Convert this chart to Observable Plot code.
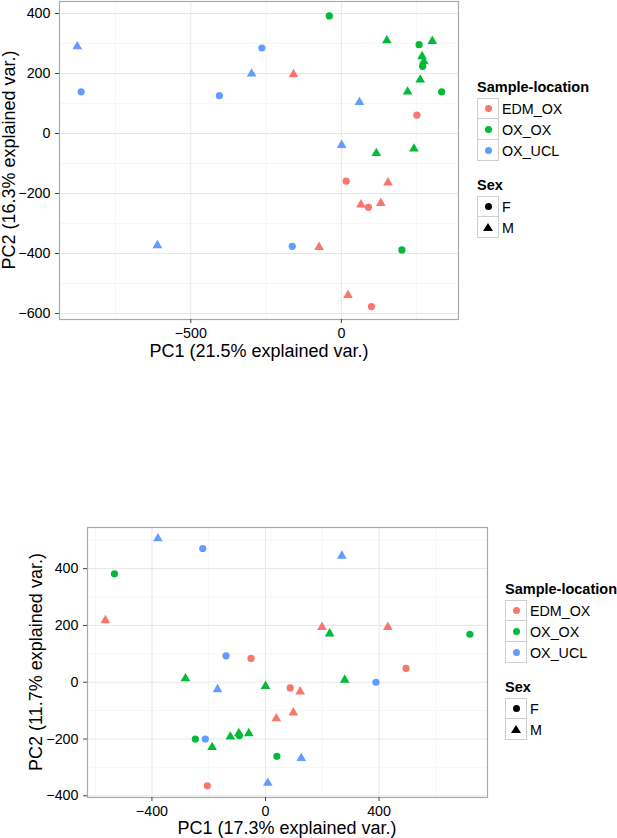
<!DOCTYPE html>
<html><head><meta charset="utf-8">
<script src="https://cdn.jsdelivr.net/npm/d3@7"></script>
<script src="https://cdn.jsdelivr.net/npm/@observablehq/plot@0.6"></script>
<style>
body{margin:0;background:#fff;font-family:"Liberation Sans",Arial,Helvetica,sans-serif;color:#000;}
#page{position:relative;width:617px;height:838px;overflow:hidden;background:#fff;}
.atitle{position:absolute;font-size:18px;line-height:1;white-space:nowrap;transform:translate(-50%,-50%);}
.ytitle{transform:translate(-50%,-50%) rotate(-90deg);}
.legend{position:absolute;font-size:14.3px;}
.leg-title{font-weight:bold;line-height:1;height:15px;margin-bottom:3px;white-space:nowrap;font-size:14.5px;}
.leg-row{display:flex;align-items:center;height:21px;}
.key{width:20px;height:20px;border:1px solid #cfcfcf;margin-top:-1px;display:flex;align-items:center;justify-content:center;background:#fff;box-sizing:content-box;}
.leg-row:first-of-type .key{margin-top:0}
.lab{margin-left:3px;white-space:nowrap;}
.dotk{width:7px;height:7px;border-radius:50%;}
.trik{width:0;height:0;border-left:5px solid transparent;border-right:5px solid transparent;border-bottom:8px solid #000;}
</style>
</head><body>
<div id="page"></div>
<script>
// ---- shared categories ----
const locations = ["EDM_OX", "OX_OX", "OX_UCL"];
const locationColors = ["#F8766D", "#00BA38", "#619CFF"];
const sexes = ["F", "M"];

// ---- top chart (PC1 21.5%, PC2 16.3%) ----
const topPC1 = [-877, -864, -264, -298, -405, -159, -40, 151, 258, 302, 268, 274, 270, 262, 220, 333, 60, 251, 1, 116, 241, 16, 155, 65, 90, 131, -611, -163, -74, 201, 22, 100];
const topPC2 = [290, 139, 285, 199, 126, 197, 392, 310, 296, 308, 257, 240, 224, 179, 139, 139, 104, 61, -39, -66, -51, -159, -164, -237, -246, -232, -373, -376, -379, -388, -539, -577];
const topLoc = ["OX_UCL","OX_UCL","OX_UCL","OX_UCL","OX_UCL","EDM_OX","OX_OX","OX_OX","OX_OX","OX_OX","OX_OX","OX_OX","OX_OX","OX_OX","OX_OX","OX_OX","OX_UCL","EDM_OX","OX_UCL","OX_OX","OX_OX","EDM_OX","EDM_OX","EDM_OX","EDM_OX","EDM_OX","OX_UCL","OX_UCL","EDM_OX","OX_OX","EDM_OX","EDM_OX"];
const topSex = ["M","F","F","M","F","M","F","M","F","M","M","M","F","M","M","F","M","F","M","M","M","F","M","M","F","M","M","F","M","F","M","F"];
const topXTicks = [-500, 0];
const topXMinor = [-750, -250, 250];
const topYTicks = [-600, -400, -200, 0, 200, 400];
const topYMinor = [-500, -300, -100, 100, 300];

// ---- bottom chart (PC1 17.3%, PC2 11.7%) ----
const botPC1 = [-379, -221, 269, -532, -564, 199, 431, 226, 720, -139, -51, 495, -282, -169, 0, 87, 122, 279, 389, 98, 38, -247, -212, -188, -124, -94, -92, -59, 40, 126, 8, -205];
const botPC2 = [506, 471, 445, 382, 218, 194, 194, 171, 169, 93, 84, 49, 13, -25, -14, -20, -33, 8, 0, -107, -128, -200, -200, -229, -192, -180, -188, -180, -261, -268, -355, -365];
const botLoc = ["OX_UCL","OX_UCL","OX_UCL","OX_OX","EDM_OX","EDM_OX","EDM_OX","OX_OX","OX_OX","OX_UCL","EDM_OX","EDM_OX","OX_OX","OX_UCL","OX_OX","EDM_OX","EDM_OX","OX_OX","OX_UCL","EDM_OX","EDM_OX","OX_OX","OX_UCL","OX_OX","OX_OX","OX_OX","OX_OX","OX_OX","OX_OX","OX_UCL","OX_UCL","EDM_OX"];
const botSex = ["M","F","M","F","M","M","M","M","F","F","F","F","M","M","M","F","M","M","F","M","M","F","F","M","M","M","F","M","F","M","M","F"];
const botXTicks = [-400, 0, 400];
const botXMinor = [-600, -200, 200, 600];
const botYTicks = [-400, -200, 0, 200, 400];
const botYMinor = [-300, -100, 100, 300, 500];

const page = document.getElementById("page");

function pcaPlot(o) {
  const data = o.pc1.map((x, i) => ({pc1: x, pc2: o.pc2[i], loc: o.loc[i], sex: o.sex[i]}));
  return Plot.plot({
    width: o.width, height: o.height,
    marginLeft: o.ml, marginRight: o.mr, marginTop: o.mt, marginBottom: o.mb,
    style: {fontFamily: '"Liberation Sans", Arial, Helvetica, sans-serif', fontSize: "14.3px", color: "#000", background: "transparent"},
    x: {domain: o.xDomain, label: null},
    y: {domain: o.yDomain, label: null},
    color: {domain: locations, range: locationColors},
    symbol: {domain: sexes, range: ["circle", "triangle"]},
    marks: [
      Plot.ruleX(o.xMinor, {stroke: "#f4f4f4", strokeWidth: 0.8}),
      Plot.ruleY(o.yMinor, {stroke: "#f4f4f4", strokeWidth: 0.8}),
      Plot.ruleX(o.xTicks, {stroke: "#e7e7e7", strokeWidth: 1}),
      Plot.ruleY(o.yTicks, {stroke: "#e7e7e7", strokeWidth: 1}),
      Plot.frame({stroke: "#a9a9a9", strokeWidth: 1.2}),
      Plot.axisX({ticks: o.xTicks, tickSize: 4, tickPadding: 4, stroke: "#444", label: null, fill: "#000"}),
      Plot.axisY({ticks: o.yTicks, tickSize: 4, tickPadding: 5, stroke: "#444", label: null, fill: "#000"}),
      Plot.dot(data, {x: "pc1", y: "pc2", fill: "loc", symbol: "sex", r: 3.6, stroke: "none"})
    ]
  });
}

function place(el, left, top) {
  el.style.position = "absolute";
  el.style.left = left + "px";
  el.style.top = top + "px";
  page.appendChild(el);
}

function title(text, cx, cy, vertical) {
  const d = document.createElement("div");
  d.className = "atitle" + (vertical ? " ytitle" : "");
  d.textContent = text;
  d.style.left = cx + "px";
  d.style.top = cy + "px";
  page.appendChild(d);
}

function legend(left, top, sexTop) {
  const box = document.createElement("div");
  box.className = "legend";
  box.style.left = left + "px";
  box.style.top = top + "px";
  let html = '<div class="leg-title">Sample-location</div><div>';
  locations.forEach((l, i) => {
    html += `<div class="leg-row"><div class="key"><div class="dotk" style="background:${locationColors[i]}"></div></div><span class="lab">${l}</span></div>`;
  });
  html += '</div>';
  box.innerHTML = html;
  page.appendChild(box);
  const box2 = document.createElement("div");
  box2.className = "legend";
  box2.style.left = left + "px";
  box2.style.top = sexTop + "px";
  let h2 = '<div class="leg-title">Sex</div><div>';
  sexes.forEach((s) => {
    const k = s === "F" ? '<div class="dotk" style="background:#000"></div>' : '<div class="trik"></div>';
    h2 += `<div class="leg-row"><div class="key">${k}</div><span class="lab">${s}</span></div>`;
  });
  h2 += '</div>';
  box2.innerHTML = h2;
  page.appendChild(box2);
}

// top chart
const top1 = pcaPlot({pc1: topPC1, pc2: topPC2, loc: topLoc, sex: topSex,
  xDomain: [-936, 389], yDomain: [-620, 440],
  xTicks: topXTicks, xMinor: topXMinor, yTicks: topYTicks, yMinor: topYMinor,
  width: 460, height: 345, ml: 59, mr: 2, mt: 1, mb: 26});
place(top1, 0, 0);
title("PC1 (21.5% explained var.)", 259, 351, false);
title("PC2 (16.3% explained var.)", 9, 160, true);
legend(477, 80, 178);

// bottom chart
const bot1 = pcaPlot({pc1: botPC1, pc2: botPC2, loc: botLoc, sex: botSex,
  xDomain: [-627, 782], yDomain: [-406, 545],
  xTicks: botXTicks, xMinor: botXMinor, yTicks: botYTicks, yMinor: botYMinor,
  width: 489, height: 299, ml: 87, mr: 2, mt: 3, mb: 26});
place(bot1, 0, 524);
title("PC1 (17.3% explained var.)", 287, 828, false);
title("PC2 (11.7% explained var.)", 36, 662, true);
legend(505, 582, 680);
</script>
</body></html>
